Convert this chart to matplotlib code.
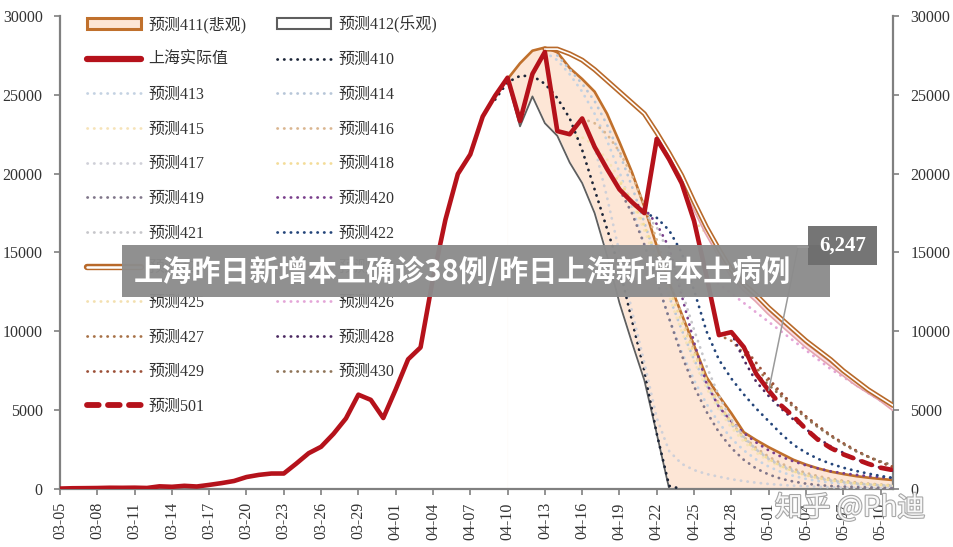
import numpy as np
import pandas as pd
import matplotlib
matplotlib.use('Agg')
import matplotlib.pyplot as plt
from matplotlib.lines import Line2D
from matplotlib.patches import Patch, Rectangle
from matplotlib.font_manager import FontProperties
import matplotlib.patheffects as pe

# ---------------- data ----------------
dates = pd.date_range('2022-03-05', '2022-05-11', freq='D')
tick_labels = [d.strftime('%m-%d') for d in dates[::3]]
y_ticks = [0, 5000, 10000, 15000, 20000, 25000, 30000]

actual_start = '03-05'
actual = [28, 48, 54, 62, 79, 75, 83, 65, 169, 139, 202, 158, 260, 374, 509, 758, 896, 981, 983,
          1609, 2269, 2678, 3500, 4477, 5982, 5653, 4502, 6311, 8226, 8981, 13354, 17077, 19982,
          21222, 23624, 24944, 26087, 23342, 26330, 27719, 22700, 22500, 23500, 21700, 20300,
          19000, 18200, 17500, 22200, 20900, 19400, 17000, 13500, 9760, 9950, 9000, 7300, 6247]

f411_start = '04-10'
f411 = [26000, 27000, 27800, 28000, 27700, 26700, 26000, 25200, 23800, 22000, 20100, 17900, 15400,
        13100, 11100, 9100, 7100, 5900, 4800, 3600, 3100,
        2650, 2250, 1850, 1550, 1300, 1100, 950, 820, 720, 640, 570]
f412_start = '04-10'
f412 = [25900, 23000, 24900, 23200, 22400, 20700, 19400, 17500, 14800, 11800, 9300, 6900, 3500, 0,
        0, 0, 0, 0, 0, 0, 0, 0, 0, 0, 0, 0, 0, 0, 0, 0, 0, 0]

f410_start = '04-09'
f410 = [24700, 25800, 26200, 26200, 25700, 24800, 23500, 21500, 19000, 16500, 14000, 10700, 7500,
        3500, 200, 0]
f413_start = '04-13'
f413 = [27700, 27200, 26300, 25200, 23800, 22100, 20100, 17900, 15500, 13100, 10800, 8700, 6900,
        5400, 4200, 3200, 2450, 1870, 1420, 1080, 830, 640, 500, 400, 320, 260, 210, 170, 140]
f414_start = '04-14'
f414 = [27500, 26600, 25700, 24600, 23100, 21300, 19200, 16900, 14500, 12200, 10100, 8200, 6600,
        5200, 4100, 3200, 2500, 1950, 1520, 1190, 930, 730, 580, 460, 370, 300, 250, 210]
f415_start = '04-15'
f415 = [22500, 22300, 21800, 20900, 19700, 18200, 16400, 14400, 12200, 10000, 8100, 6400, 5000,
        3900, 3000, 2300, 1780, 1380, 1080, 850, 670, 530, 420, 340, 280, 230, 190]
f416_start = '04-16'
f416 = [23500, 23200, 22500, 21400, 19900, 18000, 15800, 13400, 11000, 8800, 6900, 5400, 4200,
        3300, 2600, 2050, 1620, 1280, 1020, 810, 650, 520, 420, 340, 280, 230]
f417_start = '04-17'
f417 = [21700, 18500, 15000, 11300, 8000, 4500, 2400, 1600, 1200, 950, 780, 620, 500, 400,
        320, 260, 210, 170, 140, 110, 90, 75, 60, 50, 40]
f418_start = '04-18'
f418 = [20300, 19500, 18300, 16700, 14800, 12700, 10600, 8600, 6900, 5400, 4200, 3200, 2450,
        1900, 1450, 1120, 870, 690, 550, 440, 360, 300, 250, 210]
f419_start = '04-19'
f419 = [19000, 17500, 15500, 13200, 10800, 8500, 6500, 4900, 3600, 2600, 1850, 1300,
        920, 650, 470, 340, 250, 190, 150, 120, 100, 85, 70]
f420_start = '04-20'
f420 = [18200, 17800, 16800, 15300, 12300, 9300, 6700, 5200, 4300, 3550, 2950,
        2450, 2050, 1750, 1500, 1300, 1120, 1000, 900, 820, 750, 700]
f421_start = '04-21'
f421 = [17500, 16600, 14900, 12600, 10100, 7800, 5900, 4400, 3300, 2500,
        1900, 1450, 1110, 860, 670, 530, 420, 340, 280, 230, 190]
f422_start = '04-21'
f422 = [17500, 17200, 16400, 15000, 12600, 10000, 8200, 7000, 6000, 5100,
        4300, 3500, 2800, 2300, 1900, 1600, 1350, 1150, 980, 830, 700]
f423_start = '04-13'
f423 = [27900, 27900, 27600, 27200, 26600, 25900, 25200, 24500, 23800, 22600, 21300, 19900, 18200,
        16600, 15200, 13900, 13000, 12300, 11500, 10800, 10100, 9400, 8800, 8200, 7500, 6900,
        6300, 5800, 5300]
f424_start = '04-22'
f424 = [22200, 21000, 19500, 17900, 16300, 14900, 13600, 12700, 12000,
        11200, 10500, 9800, 9100, 8500, 7900, 7300, 6700, 6200, 5700, 5100]
f425_start = '04-25'
f425 = [17000, 16200, 14900, 13700, 12800, 12000,
        11300, 10600, 9900, 9200, 8600, 8000, 7400, 6800, 6300, 5800, 5350]
f426_start = '04-26'
f426 = [13500, 13000, 12400, 11800, 11200,
        10600, 10000, 9400, 8800, 8200, 7600, 7100, 6600, 6100, 5600, 5150]
f427_start = '04-27'
f427 = [9760, 9400, 8600, 7700, 6800, 6000, 5300, 4600, 4000, 3400, 2900, 2450, 2050, 1700, 1400]
f428_start = '04-28'
f428 = [9900, 8200, 6800, 5900, 5100, 4400, 3800, 3200, 2700, 2300, 1900, 1600, 1350, 1150]
f429_start = '04-29'
f429 = [9000, 8000, 7000, 6100, 5300, 4600, 3950, 3400, 2900, 2450, 2050, 1700, 1400]
f430_start = '04-30'
f430 = [7300, 6600, 5900, 5200, 4500, 3900, 3350, 2850, 2400, 2050, 1750, 1500]
f501_start = '05-01'
f501 = [6247, 5300, 4600, 3800, 3100, 2600, 2200, 1900, 1600, 1350, 1200]

label_value = '6,247'
banner_text = '上海昨日新增本土确诊38例/昨日上海新增本土病例'
watermark = '知乎 @Ph迪'

# ---------------- helpers ----------------
def xs(start, vals):
    i0 = dates.get_loc(pd.Timestamp('2022-' + start))
    return np.arange(i0, i0 + len(vals))

W, H = 954, 547
fig = plt.figure(figsize=(W / 100, H / 100), dpi=100)
ax = fig.add_axes([60 / W, 1 - 489 / H, 833 / W, 473 / H])
ax.set_xlim(0, len(dates) - 1)
ax.set_ylim(0, 30000)

DOT = (0, (0.1, 2.3))

# areas
x411, x412 = xs(f411_start, f411), xs(f412_start, f412)
ax.fill_between(x411, 0, f411, facecolor='#fde6d6', edgecolor='none', zorder=1)
ax.plot(x411, f411, color='#c0702c', lw=1.9, zorder=1.2, solid_joinstyle='round')
ax.fill_between(x412, 0, f412, facecolor='white', edgecolor='white', lw=1.2, zorder=1.3)
ax.plot(x412, f412, color='#5e5e5e', lw=1.3, zorder=1.4)

dotted = [
    ('预测410', f410_start, f410, '#1c2538'),
    ('预测413', f413_start, f413, '#c4d2e2'),
    ('预测414', f414_start, f414, '#b7c6d8'),
    ('预测415', f415_start, f415, '#f6e3b8'),
    ('预测416', f416_start, f416, '#dab690'),
    ('预测417', f417_start, f417, '#cfd0d8'),
    ('预测418', f418_start, f418, '#f3dc98'),
    ('预测419', f419_start, f419, '#80768a'),
    ('预测420', f420_start, f420, '#7a3f8c'),
    ('预测421', f421_start, f421, '#c6c6ca'),
    ('预测422', f422_start, f422, '#24457a'),
    ('预测425', f425_start, f425, '#f3e0b0'),
    ('预测426', f426_start, f426, '#e4a6d8'),
    ('预测427', f427_start, f427, '#a87248'),
    ('预测428', f428_start, f428, '#4c2a62'),
    ('预测429', f429_start, f429, '#9c5038'),
    ('预测430', f430_start, f430, '#8f7458'),
]
handles = {}
for name, st, vals, c in dotted:
    ax.plot(xs(st, vals), vals, color=c, lw=2.0, linestyle=DOT, dash_capstyle='round', zorder=3)
    handles[name] = Line2D([], [], color=c, lw=2.0, linestyle=DOT, dash_capstyle='round')

# double lines (outer stroke + light core)
def double(color_out, lw_out):
    return [pe.Stroke(linewidth=lw_out, foreground=color_out, capstyle='round'), pe.Normal()]

ax.plot(xs(f424_start, f424), f424, color='#fbe4e8', lw=1.2, zorder=3.4,
        path_effects=double('#e4a4b0', 3.6))
ax.plot(xs(f423_start, f423), f423, color='white', lw=1.2, zorder=3.5,
        path_effects=double('#b8692a', 3.6))
handles['预测423'] = Line2D([], [], color='white', lw=1.8, solid_capstyle='round',
                          path_effects=double('#b8692a', 4.6))
handles['预测424'] = Line2D([], [], color='#fbe4e8', lw=1.8, solid_capstyle='round',
                          path_effects=double('#e4a4b0', 4.6))

# actual
ax.plot(xs(actual_start, actual), actual, color='#b5121b', lw=3.3, zorder=4,
        solid_joinstyle='round', solid_capstyle='round')
handles['上海实际值'] = Line2D([], [], color='#b5121b', lw=4.5, solid_capstyle='round')
# 501
ax.plot(xs(f501_start, f501), f501, color='#b5121b', lw=3.4, linestyle=(0, (2.2, 2.0)),
        dash_capstyle='round', zorder=4.5)
handles['预测501'] = Line2D([], [], color='#b5121b', lw=4.2, linestyle=(0, (2.0, 1.6)),
                          dash_capstyle='round')
handles['预测411(悲观)'] = Patch(facecolor='#fde6d6', edgecolor='#c0702c', lw=2.2)
handles['预测412(乐观)'] = Patch(facecolor='white', edgecolor='#5e5e5e', lw=1.5)

# ---------------- axes styling ----------------
serif = ['Liberation Serif', 'Noto Sans CJK SC', 'DejaVu Sans']
ax.spines['top'].set_visible(False)
for s in ['left', 'bottom', 'right']:
    ax.spines[s].set_color('#808080')
    ax.spines[s].set_linewidth(1.6)
ax.set_xticks(np.arange(0, len(dates), 3))
ax.set_xticklabels(tick_labels, rotation=90, family=serif, fontsize=11.5, color='#333333')
ax.set_yticks(y_ticks)
ax.set_yticklabels([str(v) for v in y_ticks], family=serif, fontsize=11.5, color='#333333')
ax.tick_params(axis='x', direction='out', length=4, width=1.2, color='#808080', pad=5.5)
ax.tick_params(axis='y', direction='out', length=4, width=1.2, color='#808080', pad=8.5,
               right=True, labelright=True)

# ---------------- legend ----------------
order1 = ['预测411(悲观)', '上海实际值', '预测413', '预测415', '预测417', '预测419', '预测421',
          '预测423', '预测425', '预测427', '预测429', '预测501']
order2 = ['预测412(乐观)', '预测410', '预测414', '预测416', '预测418', '预测420', '预测422',
          '预测424', '预测426', '预测428', '预测430']
labels = order1 + order2
leg = fig.legend([handles[k] for k in labels], labels, loc='upper left',
                 bbox_to_anchor=(87 / W, 1 - 16 / H), ncol=2, frameon=False,
                 prop=FontProperties(family=serif, size=11.5), handlelength=3.4,
                 handletextpad=0.45, columnspacing=1.9, labelspacing=1.17, borderpad=0,
                 borderaxespad=0)
for t in leg.get_texts():
    t.set_color('#333333')

# ---------------- overlays ----------------
fig.add_artist(Rectangle((122 / W, 1 - 297 / H), 708 / W, 52 / H, transform=fig.transFigure,
                         facecolor='#8c8c8c', edgecolor='none', alpha=0.96, zorder=10))
fig.text(462 / W, 1 - 272 / H, banner_text, ha='center', va='center', color='white',
         fontsize=21, fontweight='bold', family=['Noto Sans CJK SC', 'DejaVu Sans'], zorder=11)

fig.add_artist(Rectangle((808 / W, 1 - 265 / H), 69 / W, 39 / H, transform=fig.transFigure,
                         facecolor='#6e6e6e', edgecolor='none', alpha=0.95, zorder=10))
fig.text(842.5 / W, 1 - 246 / H, label_value, ha='center', va='center', color='white',
         fontsize=15, fontweight='bold', family=serif, zorder=11)
i501 = dates.get_loc(pd.Timestamp('2022-' + f501_start))
ax.annotate('', xy=(i501, f501[0]), xycoords='data', xytext=(798 / W, 1 - 247 / H),
            textcoords='figure fraction', annotation_clip=False, zorder=20,
            arrowprops=dict(arrowstyle='-', color='#9a9a9a', lw=1.1, shrinkA=0, shrinkB=0))
fig.add_artist(Line2D([798 / W, 808 / W], [1 - 247 / H, 1 - 247 / H], transform=fig.transFigure,
                      color='#9a9a9a', lw=1.1, zorder=10))

fig.text(850 / W, 1 - 508 / H, watermark, ha='center', va='center', color='white', alpha=0.92,
         fontsize=20, family=['Noto Sans CJK SC', 'DejaVu Sans'], zorder=12,
         path_effects=[pe.withStroke(linewidth=1.6, foreground='#a0a0a0')])

fig.savefig('out.png', dpi=100)
